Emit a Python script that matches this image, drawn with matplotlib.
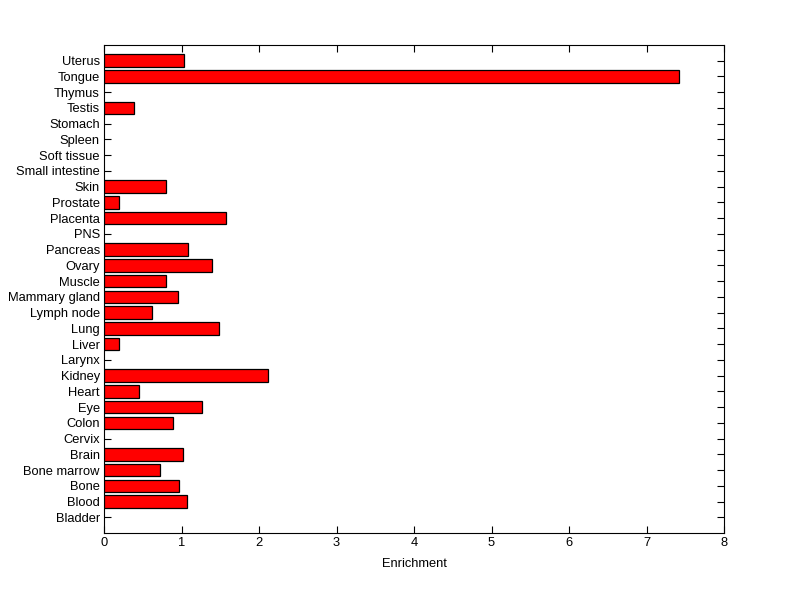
import matplotlib
matplotlib.use("Agg")
import matplotlib.pyplot as plt
import numpy as np

# Tissues, bottom to top
tissues = ["Bladder", "Blood", "Bone", "Bone marrow", "Brain", "Cervix", "Colon",
           "Eye", "Heart", "Kidney", "Larynx", "Liver", "Lung", "Lymph node",
           "Mammary gland", "Muscle", "Ovary", "Pancreas", "PNS", "Placenta",
           "Prostate", "Skin", "Small intestine", "Soft tissue", "Spleen",
           "Stomach", "Testis", "Thymus", "Tongue", "Uterus"]
enrichment = [0.0, 1.07, 0.97, 0.72, 1.02, 0.0, 0.89,
              1.265, 0.45, 2.12, 0.0, 0.19, 1.48, 0.62,
              0.96, 0.80, 1.39, 1.08, 0.0, 1.58,
              0.19, 0.80, 0.0, 0.0, 0.0,
              0.0, 0.39, 0.0, 7.42, 1.03]
xticks = [0, 1, 2, 3, 4, 5, 6, 7, 8]

plt.rcParams['font.family'] = ['Liberation Sans', 'DejaVu Sans']

fig = plt.figure(figsize=(8, 5.99), dpi=100)
ax = fig.add_axes([0.13, 0.11, 0.775, 0.815])

pos = np.arange(1, len(tissues) + 1)
nonzero = [i for i, v in enumerate(enrichment) if v > 0]
ax.barh(pos[nonzero], [enrichment[i] for i in nonzero], height=0.8,
        color="#ff0000", edgecolor="black", linewidth=0.9, zorder=3)

ax.set_xlim(0, 8)
ax.set_ylim(0, len(tissues) + 1)
ax.set_xticks(xticks)
ax.set_yticks(pos)
ax.set_yticklabels(tissues)
ax.tick_params(direction="in", top=True, right=True, length=5, width=0.8,
               labelsize=9.3, colors="black", pad=3)
for s in ax.spines.values():
    s.set_linewidth(0.8)
ax.set_xlabel("Enrichment", fontsize=9.3, labelpad=6)

fig.savefig("out.png", dpi=100, facecolor="white")
